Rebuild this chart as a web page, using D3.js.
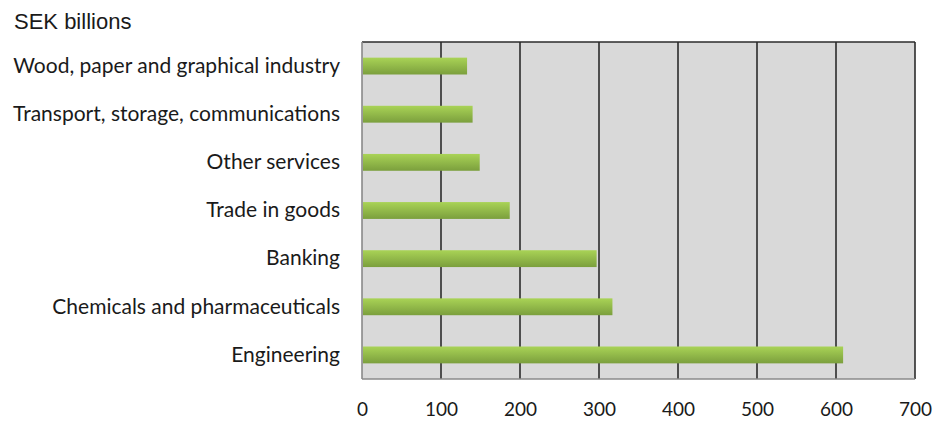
<!DOCTYPE html>
<html>
<head>
<meta charset="utf-8">
<script src="https://cdn.jsdelivr.net/npm/d3@7"></script>
<style>
  body { margin: 0; background: #fff; }
  svg text { fill: #1a1a1a; }
</style>
</head>
<body>
<script>
  // data
  const categories = ['Wood, paper and graphical industry', 'Transport, storage, communications',
    'Other services', 'Trade in goods', 'Banking', 'Chemicals and pharmaceuticals', 'Engineering'];
  const values = [133, 140, 149, 187, 297, 317, 609];
  const xTicks = [0, 100, 200, 300, 400, 500, 600, 700];
  const unitLabel = 'SEK billions';

  const margin = {top: 42, bottom: 46, left: 362, right: 18};
  const width = 933 - margin.left - margin.right;
  const height = 425 - margin.top - margin.bottom;

  const svg = d3.select('body').append('svg')
    .attr('width', 933)
    .attr('height', 425);

  // bar gradient, lighter on top
  const grad = svg.append('defs').append('linearGradient')
    .attr('id', 'barGrad').attr('x1', 0).attr('y1', 0).attr('x2', 0).attr('y2', 1);
  grad.append('stop').attr('offset', '0%').attr('stop-color', '#a9d356');
  grad.append('stop').attr('offset', '100%').attr('stop-color', '#7b9f3d');

  svg.append('text')
    .attr('x', 14).attr('y', 29)
    .style('font-family', 'Liberation Sans, Arial, sans-serif')
    .style('font-size', '22px')
    .text(unitLabel);

  const g = svg.append('g')
    .attr('transform', `translate(${margin.left},${margin.top})`);

  const x = d3.scaleLinear().domain([0, 700]).range([0, width]);
  const y = d3.scaleBand().domain(categories).range([0, height]).paddingInner(0.65).paddingOuter(0.325);

  // plot background
  g.append('rect')
    .attr('width', width).attr('height', height)
    .attr('fill', '#d9d9d9');

  // gridlines
  g.selectAll('line.grid').data(xTicks.slice(1))
    .enter().append('line')
    .attr('class', 'grid')
    .attr('x1', d => x(d)).attr('x2', d => x(d))
    .attr('y1', 0).attr('y2', height)
    .attr('stroke', '#2b2b2b').attr('stroke-width', 1.6);

  // top border
  g.append('line')
    .attr('x1', 0).attr('x2', width).attr('y1', 0).attr('y2', 0)
    .attr('stroke', '#2b2b2b').attr('stroke-width', 1.6);

  // bars
  g.selectAll('rect.bar').data(values)
    .enter().append('rect')
    .attr('class', 'bar')
    .attr('x', x(0) + 1)
    .attr('y', (d, i) => y(categories[i]))
    .attr('height', y.bandwidth())
    .attr('width', d => x(d) - x(0) - 1)
    .attr('fill', 'url(#barGrad)');

  // axes lines (gray)
  g.append('line')
    .attr('x1', 0).attr('x2', 0).attr('y1', 0).attr('y2', height)
    .attr('stroke', '#8a8a8a').attr('stroke-width', 1.6);
  g.append('line')
    .attr('x1', 0).attr('x2', width).attr('y1', height).attr('y2', height)
    .attr('stroke', '#8a8a8a').attr('stroke-width', 1.6);

  // category labels
  const yAxis = g.append('g')
    .call(d3.axisLeft(y).tickSize(0).tickPadding(22));
  yAxis.select('.domain').remove();
  yAxis.selectAll('text')
    .style('font-family', 'Lato, sans-serif')
    .style('font-size', '21px')
    .attr('fill', '#1a1a1a');

  // x tick labels
  const xAxis = g.append('g')
    .attr('transform', `translate(0,${height})`)
    .call(d3.axisBottom(x).tickValues(xTicks).tickSize(0).tickPadding(24));
  xAxis.select('.domain').remove();
  xAxis.selectAll('text')
    .style('font-family', 'Lato, sans-serif')
    .style('font-size', '19px')
    .attr('fill', '#1a1a1a');
</script>
</body>
</html>
